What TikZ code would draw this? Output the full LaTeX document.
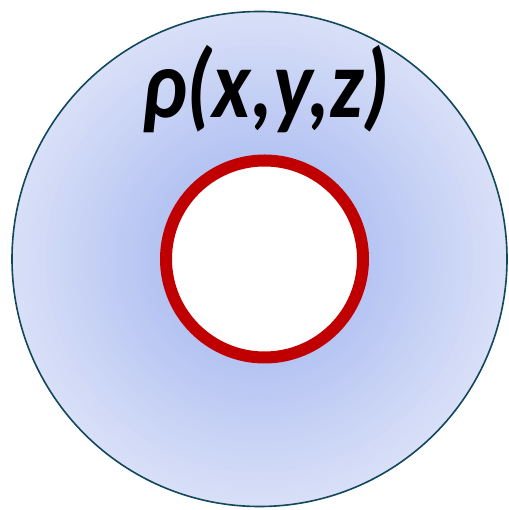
\documentclass[tikz,border=0pt]{standalone}
\usepackage{graphicx}
\usepackage{fontspec}
\setmainfont{Carlito}
\definecolor{glowin}{RGB}{180,195,242}
\definecolor{glowout}{RGB}{216,223,247}
\definecolor{rimline}{RGB}{18,72,92}
\definecolor{shellred}{RGB}{192,0,0}

\begin{document}
\begin{tikzpicture}[
  x=1pt, y=1pt,
  body/.style={circle, draw=rimline, line width=1.6pt, inner sep=0pt,
               minimum size=495pt, fill=glowout},
  shell/.style={circle, draw=shellred, line width=12pt, fill=white,
                inner sep=0pt, minimum size=197pt},
  lbl/.style={font=\fontsize{84}{84}\selectfont\bfseries\itshape, inner sep=0pt}
]
\useasboundingbox (0,0) rectangle (508,510);
\node[body] (cloud) at (259.5,251) {};
% density gets stronger towards the cavity
\foreach \k in {1,...,40}
  \fill[glowin!\the\numexpr\k*5/2\relax!glowout] (cloud.center) circle ({246-\k*3.6});
\node[shell] (cavity) at (264.5,251) {};
\node[lbl] (density) at (266,421) {\scalebox{1}[1.16]{ρ(x,y,z)}};
\end{tikzpicture}
\end{document}
